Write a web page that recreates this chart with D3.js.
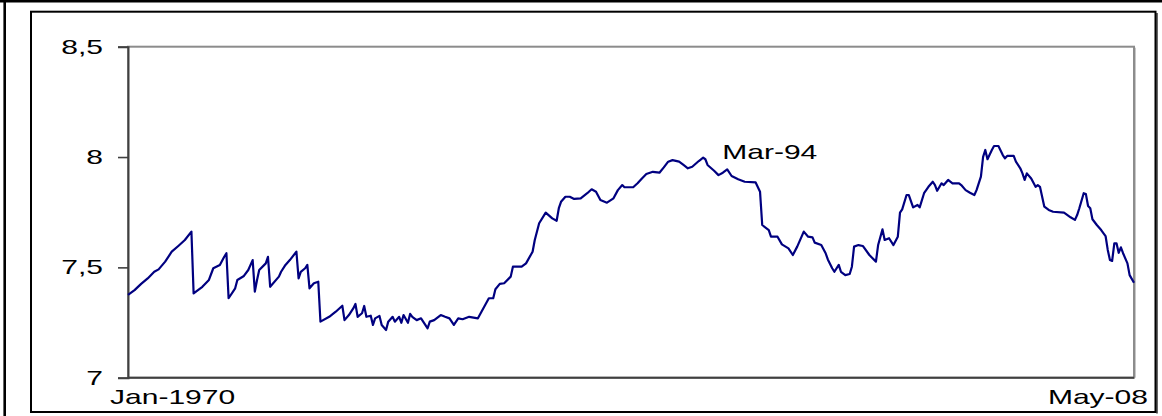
<!DOCTYPE html>
<html>
<head>
<meta charset="utf-8">
<script src="https://cdn.jsdelivr.net/npm/d3@7"></script>
<style>
    body { margin: 0; background: #fff; }
    svg { display: block; }
    text { font-family: Arial, "Liberation Sans", sans-serif; fill: #000; }
</style>
</head>
<body>
<script>
// Global consts
var w = 1162;
var h = 416;
var textStretch = 1.43;   // the original picture is stretched sideways

// months since Jan-1970 (0 = Jan-1970, 460 = May-08)
var monthIdx = [
    0, 3, 6, 9, 12, 14, 17, 20, 23, 26, 29, 30, 34, 37, 39, 42, 44, 45, 46, 49,
    50, 53, 55, 57, 58, 59, 60, 63, 64, 65, 69, 70, 72, 74, 77, 78, 79, 81, 82, 83,
    85, 87, 88, 92, 95, 98, 99, 101, 103, 104, 105, 107, 108, 109, 111, 112, 113, 115, 116, 118,
    119, 121, 122, 124, 125, 126, 128, 129, 130, 132, 134, 137, 138, 140, 143, 145, 147, 149, 151, 153,
    156, 160, 165, 167, 168, 170, 172, 175, 176, 180, 182, 185, 186, 188, 191, 194, 196, 197, 198, 200,
    202, 204, 207, 210, 212, 214, 216, 219, 222, 224, 226, 227, 231, 233, 235, 237, 240, 243, 245, 247,
    249, 252, 254, 256, 258, 261, 263, 264, 265, 268, 270, 272, 274, 276, 279, 282, 287, 289, 290, 293,
    294, 297, 299, 302, 304, 306, 309, 311, 313, 314, 317, 319, 320, 322, 323, 325, 326, 328, 330, 331,
    332, 334, 336, 339, 340, 342, 343, 345, 346, 348, 350, 352, 353, 354, 356, 357, 359, 361, 362, 364,
    366, 368, 369, 370, 372, 373, 375, 377, 380, 381, 383, 385, 387, 388, 390, 391, 392, 393, 395, 396,
    398, 400, 401, 402, 405, 406, 408, 409, 410, 411, 413, 415, 416, 417, 419, 421, 423, 428, 431, 433,
    434, 435, 437, 438, 439, 440, 441, 443, 445, 447, 448, 449, 450, 451, 452, 453, 454, 455, 457, 458,
    460
];
var values = [
    7.375, 7.397, 7.425, 7.450, 7.480, 7.491, 7.526, 7.571, 7.597, 7.624, 7.662, 7.382, 7.412, 7.443, 7.496, 7.511, 7.548, 7.564, 7.360, 7.405,
    7.443, 7.461, 7.488, 7.533, 7.390, 7.443, 7.488, 7.518, 7.548, 7.412, 7.458, 7.480, 7.511, 7.533, 7.571, 7.450, 7.480, 7.496, 7.511, 7.405,
    7.428, 7.435, 7.254, 7.276, 7.299, 7.326, 7.261, 7.284, 7.314, 7.334, 7.276, 7.292, 7.325, 7.276, 7.281, 7.239, 7.269, 7.280, 7.239, 7.216,
    7.254, 7.276, 7.254, 7.276, 7.249, 7.284, 7.249, 7.289, 7.276, 7.261, 7.269, 7.224, 7.254, 7.261, 7.284, 7.276, 7.269, 7.239, 7.269, 7.265,
    7.276, 7.269, 7.360, 7.360, 7.401, 7.425, 7.428, 7.458, 7.503, 7.503, 7.518, 7.571, 7.624, 7.700, 7.748, 7.722, 7.711, 7.768, 7.797, 7.820,
    7.820, 7.810, 7.813, 7.836, 7.854, 7.843, 7.805, 7.793, 7.813, 7.850, 7.873, 7.863, 7.863, 7.881, 7.903, 7.923, 7.933, 7.929, 7.953, 7.979,
    7.986, 7.979, 7.964, 7.949, 7.956, 7.982, 7.997, 7.990, 7.964, 7.938, 7.918, 7.929, 7.944, 7.914, 7.899, 7.888, 7.885, 7.843, 7.692, 7.669,
    7.639, 7.639, 7.604, 7.586, 7.556, 7.594, 7.662, 7.639, 7.636, 7.612, 7.601, 7.564, 7.536, 7.496, 7.480, 7.511, 7.480, 7.465, 7.470, 7.503,
    7.594, 7.601, 7.597, 7.556, 7.546, 7.526, 7.601, 7.672, 7.624, 7.632, 7.601, 7.639, 7.748, 7.763, 7.828, 7.828, 7.772, 7.783, 7.772, 7.836,
    7.865, 7.888, 7.873, 7.847, 7.881, 7.873, 7.896, 7.881, 7.881, 7.873, 7.850, 7.838, 7.828, 7.850, 7.911, 8.001, 8.032, 7.990, 8.032, 8.050,
    8.050, 8.009, 7.994, 8.005, 8.005, 7.979, 7.949, 7.926, 7.896, 7.926, 7.903, 7.865, 7.873, 7.865, 7.775, 7.760, 7.752, 7.748, 7.727, 7.715,
    7.737, 7.768, 7.836, 7.832, 7.778, 7.768, 7.718, 7.692, 7.669, 7.642, 7.579, 7.533, 7.529, 7.609, 7.609, 7.566, 7.591, 7.564, 7.518, 7.465,
    7.430
];
var yTicks = [7, 7.5, 8, 8.5];
var yTickLabels = ["7", "7,5", "8", "8,5"];
var xFirstLabel = "Jan-1970";
var xLastLabel = "May-08";
var annotationMonth = 290;   // Mar-94
var annotationLabel = "Mar-94";

var svg = d3.select("body").append("svg")
    .attr("width", w)
    .attr("height", h);

// plot area
var plot = {left: 128, right: 1134, top: 46.7, bottom: 377.7};

var x = d3.scaleLinear()
    .domain([0, 460])
    .range([plot.left, plot.right]);
var y = d3.scaleLinear()
    .domain([7, 8.5])
    .range([plot.bottom, plot.top]);

// outer table lines
svg.append("line")
    .attr("x1", 0).attr("x2", w)
    .attr("y1", 1.3).attr("y2", 1.3)
    .style("stroke", "#000").style("stroke-width", 2.6);
svg.append("line")
    .attr("x1", 4.7).attr("x2", 4.7)
    .attr("y1", 0).attr("y2", h)
    .style("stroke", "#000").style("stroke-width", 2.6);

// chart area frame
svg.append("rect")
    .attr("x", 31).attr("y", 11.7)
    .attr("width", 1124.5).attr("height", 400.3)
    .style("fill", "none").style("stroke", "#000").style("stroke-width", 2);
svg.append("line")   // shadow on the right side
    .attr("x1", 1157).attr("x2", 1157)
    .attr("y1", 13).attr("y2", 413.5)
    .style("stroke", "#000").style("stroke-width", 1.2);

// plot area border (grey)
svg.append("rect")
    .attr("x", plot.left).attr("y", plot.top)
    .attr("width", plot.right - plot.left).attr("height", plot.bottom - plot.top)
    .style("fill", "none").style("stroke", "#8c8c8c").style("stroke-width", 2);
svg.append("line")
    .attr("x1", plot.right + 1.5).attr("x2", plot.right + 1.5)
    .attr("y1", plot.top + 1).attr("y2", plot.bottom)
    .style("stroke", "#c8c8c8").style("stroke-width", 1);

// y axis
var yAxis = svg.append("g")
    .attr("transform", "translate(" + plot.left + ",0)")
    .call(d3.axisLeft(y)
        .tickValues(yTicks)
        .tickSize(10)
        .tickPadding(0)
        .tickFormat(function (d, i) { return yTickLabels[i]; }));
yAxis.select(".domain")
    .style("stroke", "#404040")
    .style("stroke-width", 2);
yAxis.selectAll(".tick line")
    .style("stroke", "#404040")
    .style("stroke-width", 1.6);
yAxis.selectAll(".tick text")
    .attr("x", -25 / textStretch)
    .attr("dy", "0.31em")
    .attr("transform", "scale(" + textStretch + ",1)")
    .style("font-size", "21px")
    .style("font-family", "Arial, 'Liberation Sans', sans-serif")
    .style("fill", "#000");

// x axis line
svg.append("line")
    .attr("x1", plot.left).attr("x2", plot.right)
    .attr("y1", y(7)).attr("y2", y(7))
    .style("stroke", "#404040").style("stroke-width", 2);

// x labels (first and last category only)
function stretchedText(px, py, txt, anchor) {
    svg.append("text")
        .attr("transform", "translate(" + px + "," + py + ") scale(" + textStretch + ",1)")
        .attr("text-anchor", anchor)
        .style("font-size", "21px")
        .text(txt);
}
stretchedText(x(0) - 18, 403.5, xFirstLabel, "start");
stretchedText(x(460) + 14, 403.5, xLastLabel, "end");

// series
var line = d3.line()
    .x(function (d, i) { return x(monthIdx[i]); })
    .y(function (d) { return y(d); });
svg.append("path")
    .datum(values)
    .attr("d", line)
    .style("fill", "none")
    .style("stroke", "#000080")
    .style("stroke-width", 2.2)
    .style("stroke-linejoin", "round");

// annotation
stretchedText(x(annotationMonth) - 40, 159.3, annotationLabel, "start");
</script>
</body>
</html>
